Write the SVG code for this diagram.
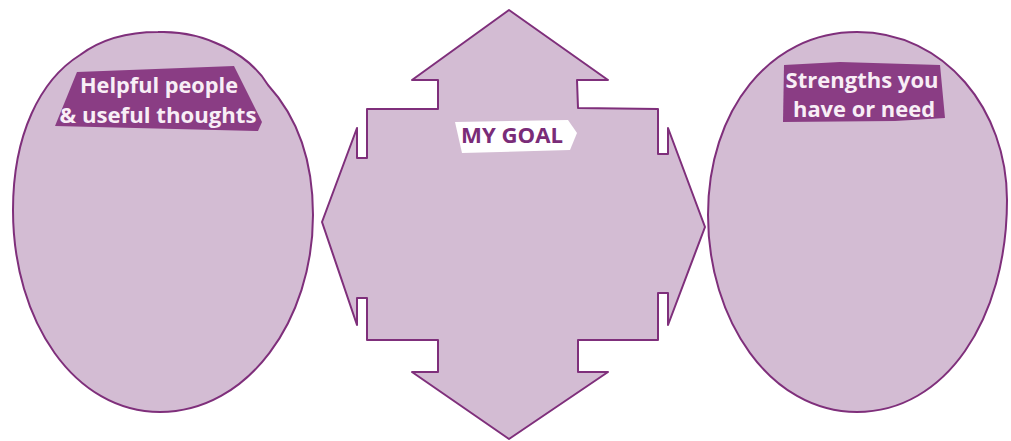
<svg xmlns="http://www.w3.org/2000/svg" width="1011" height="441" viewBox="0 0 1011 441">
<style>
.shape{fill:#d3bcd3;stroke:#7f2f7b;stroke-width:2;stroke-linejoin:round}
.tag{fill:#8a3d84}
.lbl{font-family:"Open Sans","Liberation Sans",sans-serif;font-weight:bold;font-size:21px;fill:#f8eef6;text-anchor:middle}
.goal{font-family:"Open Sans","Liberation Sans",sans-serif;font-weight:bold;font-size:21px;fill:#7a2c78;text-anchor:middle}
</style>
<rect width="1011" height="441" fill="#ffffff"/>
<g id="helpful">
<path class="shape" d="M158,32 C205,30 250,55 268,85 C300,120 313,165 313,215 C313,320 248,412 160,412 C75,412 13,322 13,210 C13,135 40,80 80,55 C100,40 128,32 158,32 Z"/>
<polygon class="tag" points="77,72 234,66 262,122 258,131 55,126"/>
<text class="lbl" x="159" y="93" textLength="158" lengthAdjust="spacingAndGlyphs">Helpful people</text>
<text class="lbl" x="158" y="123" textLength="197" lengthAdjust="spacingAndGlyphs">&amp; useful thoughts</text>
</g>
<g id="goal">
<polygon class="shape" points="509,10 608,80 577,80 578,108 658,109 658,154 668,154 668,128 705,227 668,325 668,293 658,293 658,340 578,340 578,372 608,372 509,439 412,372 438,372 438,340 367,340 367,298 357,298 357,325 322,222 357,128 357,158 367,158 367,109 438,109 438,80 412,80"/>
<polygon points="455,122 568,120 577,133 570,150 462,153" fill="#ffffff"/>
<text class="goal" x="512" y="143" textLength="102" lengthAdjust="spacingAndGlyphs">MY GOAL</text>
</g>
<g id="strengths">
<path class="shape" d="M857,32 C945,32 1007,110 1007,200 C1007,320 945,412 857,412 C770,412 708,320 708,215 C708,110 770,32 857,32 Z"/>
<polygon class="tag" points="784,65 840,62 940,65 945,118 895,121 783,122"/>
<text class="lbl" x="862" y="88" textLength="153" lengthAdjust="spacingAndGlyphs">Strengths you</text>
<text class="lbl" x="864" y="117" textLength="142" lengthAdjust="spacingAndGlyphs">have or need</text>
</g>
<g id="connectors"></g>
</svg>
